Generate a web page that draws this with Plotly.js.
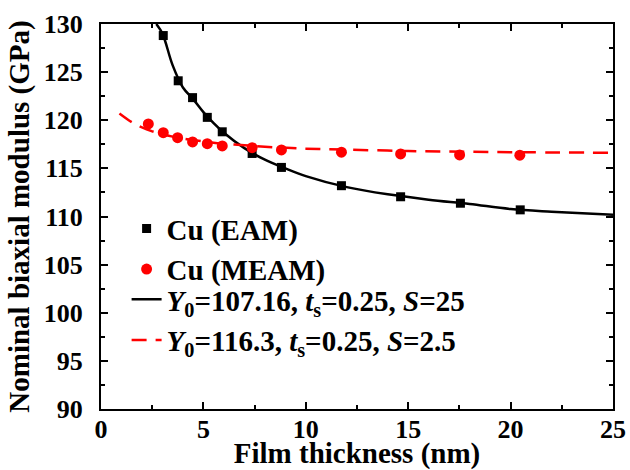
<!DOCTYPE html>
<html>
<head>
<meta charset="utf-8">
<script src="https://cdn.plot.ly/plotly-3.0.1.min.js"></script>
<style>html,body{margin:0;padding:0;background:#fff;}#chart{width:630px;height:470px;}</style>
</head>
<body>
<div id="chart"></div>
<script>
// Data
const eamThickness = [3.04, 3.77, 4.47, 5.19, 5.92, 7.38, 8.81, 11.74, 14.63, 17.55, 20.47];
const eamModulus   = [128.8, 124.1, 122.35, 120.3, 118.8, 116.55, 115.1, 113.2, 112.05, 111.38, 110.69];

const meamThickness = [2.31, 3.04, 3.74, 4.47, 5.19, 5.92, 7.38, 8.81, 11.74, 14.63, 17.51, 20.45];
const meamModulus   = [119.62, 118.71, 118.19, 117.75, 117.57, 117.33, 117.15, 116.92, 116.68, 116.5, 116.4, 116.37];

// Fitted curves
const fitEamX = [2.70, 3.0, 3.5, 4.0, 4.5, 5.0, 5.5, 6.0, 7.0, 8.0, 9.0, 10, 12, 14, 16, 18, 20, 22, 25];
const fitEamY = [130, 129.0, 125.7, 123.4, 122.2, 120.85, 119.7, 118.7, 117.1, 115.9, 115.0, 114.2, 113.05, 112.3, 111.75, 111.3, 110.78, 110.5, 110.17];

const fitMeamX = [0.9, 1.5, 2.0, 2.5, 3.0, 3.5, 4.0, 5.0, 6.0, 7.0, 8.0, 10, 12, 15, 18, 21, 25];
const fitMeamY = [120.7, 119.8, 119.25, 118.85, 118.55, 118.3, 118.1, 117.8, 117.55, 117.4, 117.25, 117.05, 116.95, 116.8, 116.72, 116.67, 116.62];

const seriesNames = [
  'Cu (EAM)',
  'Cu (MEAM)',
  '<i>Y</i><sub>0</sub>=107.16, <i>t</i><sub>s</sub>=0.25, <i>S</i>=25',
  '<i>Y</i><sub>0</sub>=116.3, <i>t</i><sub>s</sub>=0.25, <i>S</i>=2.5'
];

const xTickVals = [0, 5, 10, 15, 20, 25];
const yTickVals = [90, 95, 100, 105, 110, 115, 120, 125, 130];

const FONT = 'Liberation Serif';

const traces = [
  {
    x: fitEamX, y: fitEamY, mode: 'lines', name: seriesNames[2], legend: 'legend2', legendrank: 1,
    line: {color: '#000000', width: 2.5, shape: 'spline'}
  },
  {
    x: fitMeamX, y: fitMeamY, mode: 'lines', name: seriesNames[3], legend: 'legend2', legendrank: 2,
    line: {color: '#ff0000', width: 2.5, shape: 'spline', dash: '15px,9px'}
  },
  {
    x: eamThickness, y: eamModulus, mode: 'markers', name: seriesNames[0], legendrank: 1,
    marker: {symbol: 'square', color: '#000000', size: 9}
  },
  {
    x: meamThickness, y: meamModulus, mode: 'markers', name: seriesNames[1], legendrank: 2,
    marker: {symbol: 'circle', color: '#ff0000', size: 11}
  }
];

function tickFont() { return {family: FONT, size: 26, color: '#000', weight: 'bold'}; }
function titleFont() { return {family: FONT, size: 29, color: '#000', weight: 'bold'}; }
function legendFont() { return {family: FONT, size: 29, color: '#000', weight: 'bold'}; }

const layout = {
  width: 630, height: 470,
  paper_bgcolor: '#fff', plot_bgcolor: '#fff',
  margin: {l: 101, r: 17, t: 24, b: 61},
  showlegend: true,
  font: {family: FONT},
  legend: {
    x: 0.05, y: 0.535, xanchor: 'left', yanchor: 'top',
    bgcolor: 'rgba(0,0,0,0)', borderwidth: 0,
    font: legendFont(), tracegroupgap: 0
  },
  legend2: {
    x: 0.05, y: 0.351, xanchor: 'left', yanchor: 'top',
    bgcolor: 'rgba(0,0,0,0)', borderwidth: 0,
    font: legendFont(), tracegroupgap: 0
  },
  xaxis: {
    range: [0, 25], tickvals: xTickVals, ticktext: xTickVals.map(String),
    showgrid: false, zeroline: false,
    showline: true, linecolor: '#000', linewidth: 2, mirror: 'allticks',
    ticks: 'inside', ticklen: 7, tickwidth: 2, tickcolor: '#000',
    tickfont: tickFont(),
    minor: {ticks: 'inside', ticklen: 4, tickwidth: 2, tickcolor: '#000', dtick: 2.5, tick0: 0},
    ticklabelstandoff: -4,
    title: {text: 'Film thickness (nm)', font: titleFont(), standoff: 0}
  },
  yaxis: {
    range: [90, 130], tickvals: yTickVals, ticktext: yTickVals.map(String),
    showgrid: false, zeroline: false,
    showline: true, linecolor: '#000', linewidth: 2, mirror: 'allticks',
    ticks: 'inside', ticklen: 7, tickwidth: 2, tickcolor: '#000',
    tickfont: tickFont(),
    minor: {ticks: 'inside', ticklen: 4, tickwidth: 2, tickcolor: '#000', dtick: 2.5, tick0: 90},
    ticklabelstandoff: 11,
    title: {text: 'Nominal biaxial modulus (GPa)', font: titleFont(), standoff: 6}
  }
};

Plotly.newPlot('chart', traces, layout, {displayModeBar: false, staticPlot: true});
</script>
</body>
</html>
